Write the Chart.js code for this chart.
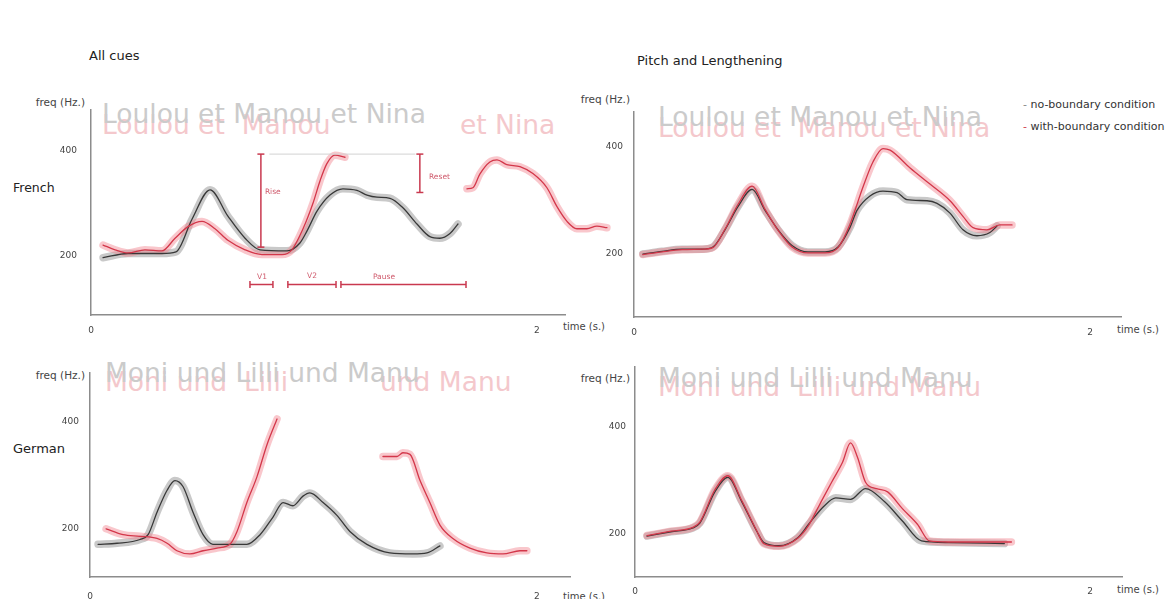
<!DOCTYPE html>
<html>
<head>
<meta charset="utf-8">
<script src="https://cdn.jsdelivr.net/npm/chart.js@4/dist/chart.umd.min.js"></script>
<style>
body { margin: 0; background: #fff; width: 1172px; height: 599px; overflow: hidden; position: relative;
       font-family: "DejaVu Sans", Verdana, sans-serif; color: #333; }
.t { position: absolute; white-space: pre; line-height: 1; }
.w { font-size: 26.5px; }
.g { color: #cbcbcb; }
.p { color: #f4c8cc; }
.ax { font-size: 10.5px; color: #444; }
canvas { position: absolute; }
</style>
</head>
<body>

<!-- sentence overlays (behind the curves) -->
<div class="t w p" style="left:102px;top:112px">Loulou et  Manou</div>
<div class="t w p" style="left:460px;top:112px">et Nina</div>
<div class="t w g" style="left:102px;top:101px">Loulou et Manou et Nina</div>

<div class="t w p" style="left:658px;top:115px">Loulou et  Manou et Nina</div>
<div class="t w g" style="left:658px;top:104px">Loulou et Manou et Nina</div>

<div class="t w p" style="left:105px;top:369px">Moni und  Lilli</div>
<div class="t w p" style="left:380px;top:369px">und Manu</div>
<div class="t w g" style="left:105px;top:360px">Moni und Lilli und Manu</div>

<div class="t w p" style="left:658px;top:374px">Moni und  Lilli und Manu</div>
<div class="t w g" style="left:658px;top:365px">Moni und Lilli und Manu</div>

<!-- titles and labels -->
<div class="t" style="left:89px;top:49px;font-size:13px;color:#222">All cues</div>
<div class="t" style="left:637px;top:54px;font-size:13px;color:#222">Pitch and Lengthening</div>
<div class="t" style="left:13px;top:182px;font-size:12.5px;color:#222">French</div>
<div class="t" style="left:13px;top:442px;font-size:13px;color:#222">German</div>

<div class="t ax" style="right:1087px;top:97px">freq (Hz.)</div>
<div class="t ax" style="right:542px;top:94px">freq (Hz.)</div>
<div class="t ax" style="right:1087px;top:370px">freq (Hz.)</div>
<div class="t ax" style="right:542px;top:373px">freq (Hz.)</div>

<div class="t ax" style="left:563px;top:322px;font-size:10px">time (s.)</div>
<div class="t ax" style="left:1117px;top:325px;font-size:10px">time (s.)</div>
<div class="t ax" style="left:563px;top:592px;font-size:10px">time (s.)</div>
<div class="t ax" style="left:1117px;top:585px;font-size:10px">time (s.)</div>

<div class="t" style="left:1023px;top:99px;font-size:11px"><span style="color:#888">-</span> no-boundary condition</div>
<div class="t" style="left:1023px;top:121px;font-size:11px"><span style="color:#d04050">-</span> with-boundary condition</div>

<canvas id="frAll"></canvas>
<canvas id="frPL"></canvas>
<canvas id="deAll"></canvas>
<canvas id="dePL"></canvas>

<script>
const X_TICKS = [0, 2];
const Y_TICKS = [200, 400];

// French - all cues
const frAllNoT = [0.054, 0.166, 0.318, 0.381, 0.453, 0.534, 0.614, 0.691, 0.758, 0.879, 0.937, 0.969, 1.013, 1.072, 1.130, 1.193, 1.238, 1.283, 1.341, 1.399, 1.462, 1.520, 1.565, 1.610, 1.646];
const frAllNoF = [196, 204, 204, 207, 269, 325, 275, 233, 211, 209, 224, 247, 284, 315, 327, 324, 315, 311, 309, 291, 260, 236, 233, 242, 260];
const frAllWiT = [0.054, 0.108, 0.166, 0.242, 0.318, 0.377, 0.435, 0.498, 0.556, 0.614, 0.691, 0.767, 0.857, 0.901, 0.951, 0.996, 1.027, 1.058, 1.094, 1.139];
const frAllWiF = [220, 211, 205, 211, 209, 233, 255, 265, 251, 229, 211, 202, 202, 211, 251, 300, 342, 375, 391, 387];
const frAllWi2T = [1.686, 1.713, 1.744, 1.789, 1.821, 1.865, 1.924, 1.982, 2.045, 2.090, 2.135, 2.179, 2.224, 2.269, 2.314];
const frAllWi2F = [327, 329, 355, 378, 382, 373, 369, 356, 329, 293, 265, 251, 251, 256, 253];

// French - pitch and lengthening
const frPLNoT = [0.039, 0.123, 0.211, 0.298, 0.346, 0.399, 0.456, 0.518, 0.575, 0.632, 0.693, 0.763, 0.838, 0.895, 0.947, 0.978, 1.035, 1.092, 1.154, 1.197, 1.285, 1.329, 1.386, 1.443, 1.504, 1.561, 1.592];
const frPLNoF = [200, 205, 209, 209, 213, 245, 288, 320, 281, 245, 216, 204, 204, 213, 249, 281, 308, 317, 314, 301, 299, 294, 276, 245, 234, 240, 252];
const frPLWiT = [0.039, 0.123, 0.211, 0.298, 0.346, 0.399, 0.456, 0.518, 0.575, 0.632, 0.693, 0.763, 0.838, 0.895, 0.947, 1.004, 1.048, 1.092, 1.123, 1.211, 1.298, 1.386, 1.443, 1.487, 1.548, 1.605, 1.658];
const frPLWiF = [199, 204, 208, 209, 212, 246, 292, 326, 283, 244, 213, 202, 202, 212, 255, 324, 371, 396, 393, 360, 330, 299, 270, 249, 245, 254, 254];

// German - all cues
const deAllNoT = [0.036, 0.121, 0.224, 0.260, 0.300, 0.345, 0.380, 0.416, 0.461, 0.506, 0.550, 0.626, 0.702, 0.761, 0.819, 0.864, 0.908, 0.953, 0.984, 1.043, 1.105, 1.163, 1.239, 1.342, 1.445, 1.508, 1.566];
const deAllNoF = [171, 173, 180, 189, 231, 272, 290, 279, 231, 189, 171, 171, 171, 189, 222, 249, 243, 261, 267, 249, 225, 195, 171, 155, 153, 155, 168];
const deAllWiT = [0.072, 0.148, 0.224, 0.300, 0.345, 0.389, 0.447, 0.506, 0.568, 0.626, 0.658, 0.702, 0.747, 0.792, 0.837];
const deAllWiF = [200, 189, 186, 182, 173, 159, 153, 159, 164, 171, 195, 249, 297, 357, 405];
const deAllWi2T = [1.311, 1.374, 1.400, 1.432, 1.477, 1.521, 1.566, 1.624, 1.700, 1.776, 1.848, 1.924, 1.955];
const deAllWi2F = [335, 335, 342, 339, 290, 249, 207, 182, 164, 155, 153, 159, 159];

// German - pitch and lengthening
const dePLNoT = [0.053, 0.158, 0.254, 0.285, 0.351, 0.408, 0.469, 0.535, 0.566, 0.632, 0.715, 0.763, 0.829, 0.882, 0.947, 1.013, 1.096, 1.175, 1.259, 1.377, 1.623];
const dePLNoF = [196, 204, 211, 220, 278, 305, 260, 205, 184, 178, 193, 218, 251, 267, 264, 284, 260, 224, 187, 184, 182];
const dePLWiT = [0.053, 0.158, 0.254, 0.285, 0.351, 0.408, 0.469, 0.535, 0.566, 0.632, 0.715, 0.763, 0.807, 0.864, 0.912, 0.947, 0.978, 1.013, 1.061, 1.110, 1.175, 1.241, 1.294, 1.377, 1.623, 1.654];
const dePLWiF = [197, 205, 212, 222, 282, 308, 262, 206, 182, 177, 192, 216, 251, 296, 333, 369, 342, 296, 284, 278, 247, 218, 187, 185, 185, 185];

// annotations in the French all-cues panel
const vBarT = [0.762, 1.475];
const vBarLo = [216, 320];
const vBarHi = [393, 393];
const refLineT = [0.80, 1.455];
const refLineF = 393;
const hBarF = 145;
const hBarFrom = [0.713, 0.883, 1.121];
const hBarTo = [0.816, 1.099, 1.682];
const noteText = ['Rise', 'Reset', 'V1', 'V2', 'Pause'];
const noteT = [0.780, 1.516, 0.767, 0.991, 1.314];
const noteF = [320, 349, 160, 162, 160];
const noteAlign = ['left', 'left', 'center', 'center', 'center'];

const RED = '#c9394f';

const pts = (t, f) => t.map((v, i) => ({ x: v, y: f[i] }));

function curve(t, f, kind) {
  const band = kind === 'no' ? 'rgba(135,135,135,0.45)' : 'rgba(242,130,142,0.45)';
  const line = kind === 'no' ? '#383838' : '#d3374a';
  const base = { data: pts(t, f), showLine: true, pointRadius: 0, clip: false,
                 cubicInterpolationMode: 'monotone', borderCapStyle: 'round', borderJoinStyle: 'round' };
  return [
    Object.assign({}, base, { borderColor: band, borderWidth: 7.5, order: kind === 'no' ? 4 : 3 }),
    Object.assign({}, base, { borderColor: line, borderWidth: 1.3, order: kind === 'no' ? 2 : 1 })
  ];
}

const brackets = {
  id: 'brackets',
  afterDatasetsDraw(chart) {
    const { ctx, scales: { x, y } } = chart;
    const seg = (a, b, c, d) => { ctx.beginPath(); ctx.moveTo(a, b); ctx.lineTo(c, d); ctx.stroke(); };
    ctx.save();
    ctx.strokeStyle = '#d2d2d2';
    ctx.lineWidth = 1;
    seg(x.getPixelForValue(refLineT[0]), y.getPixelForValue(refLineF), x.getPixelForValue(refLineT[1]), y.getPixelForValue(refLineF));
    ctx.strokeStyle = RED;
    ctx.lineWidth = 1.5;
    vBarT.forEach((t, i) => {
      const px = x.getPixelForValue(t), y0 = y.getPixelForValue(vBarLo[i]), y1 = y.getPixelForValue(vBarHi[i]);
      seg(px, y0, px, y1);
      seg(px - 3.5, y0, px + 3.5, y0);
      seg(px - 3.5, y1, px + 3.5, y1);
    });
    const py = y.getPixelForValue(hBarF);
    hBarFrom.forEach((t, i) => {
      const x0 = x.getPixelForValue(t), x1 = x.getPixelForValue(hBarTo[i]);
      seg(x0, py, x1, py);
      seg(x0, py - 3.5, x0, py + 3.5);
      seg(x1, py - 3.5, x1, py + 3.5);
    });
    ctx.fillStyle = '#cf5a6c';
    ctx.font = '7.5px "DejaVu Sans"';
    ctx.textBaseline = 'middle';
    noteText.forEach((s, i) => {
      ctx.textAlign = noteAlign[i];
      ctx.fillText(s, x.getPixelForValue(noteT[i]), y.getPixelForValue(noteF[i]));
    });
    ctx.restore();
  }
};

const panels = [
  { id: 'frAll', left: 51, top: 90, w: 570, h: 250, pr: 56, x: [0, 2.126], y: [87, 478], yp: 14, xp: 10,
    sets: [curve(frAllWiT, frAllWiF, 'with'), curve(frAllWi2T, frAllWi2F, 'with'), curve(frAllNoT, frAllNoF, 'no')], notes: true },
  { id: 'frPL', left: 594, top: 95, w: 537, h: 247, pr: 10, x: [0, 2.136], y: [83, 465], yp: 11, xp: 10,
    sets: [curve(frPLWiT, frPLWiF, 'with'), curve(frPLNoT, frPLNoF, 'no')] },
  { id: 'deAll', left: 50, top: 356, w: 530, h: 246, pr: 10, x: [0, 2.148], y: [110, 492], yp: 11, xp: 14,
    sets: [curve(deAllWiT, deAllWiF, 'with'), curve(deAllWi2T, deAllWi2F, 'with'), curve(deAllNoT, deAllNoF, 'no')] },
  { id: 'dePL', left: 595, top: 352, w: 537, h: 250, pr: 10, x: [0, 2.14], y: [120, 511], yp: 9, xp: 9,
    sets: [curve(dePLWiT, dePLWiF, 'with'), curve(dePLNoT, dePLNoF, 'no')] }
];

panels.forEach(p => {
  const cv = document.getElementById(p.id);
  cv.width = p.w;
  cv.height = p.h;
  cv.style.left = p.left + 'px';
  cv.style.top = p.top + 'px';
  const tickFont = { size: 9, family: 'DejaVu Sans' };
  new Chart(cv, {
    type: 'scatter',
    data: { datasets: p.sets.flat() },
    options: {
      responsive: false,
      animation: false,
      events: [],
      layout: { padding: { left: 0, top: 10, right: p.pr, bottom: 0 } },
      plugins: { legend: { display: false }, tooltip: { enabled: false } },
      scales: {
        x: {
          type: 'linear',
          grid: { display: false, drawTicks: false },
          border: { color: '#8c8c8c', width: 1.5 },
          ticks: { font: tickFont, color: '#444', padding: p.xp, maxRotation: 0 },
          afterBuildTicks: s => { s.min = p.x[0]; s.max = p.x[1]; s.ticks = X_TICKS.map(v => ({ value: v })); },
          afterFit: s => { s.height = 25; }
        },
        y: {
          type: 'linear',
          grid: { display: false, drawTicks: false },
          border: { color: '#8c8c8c', width: 1.5 },
          ticks: { font: tickFont, color: '#444', padding: p.yp },
          afterBuildTicks: s => { s.min = p.y[0]; s.max = p.y[1]; s.ticks = Y_TICKS.map(v => ({ value: v })); },
          afterFit: s => { s.width = 40; }
        }
      }
    },
    plugins: p.notes ? [brackets] : []
  });
});
</script>
</body>
</html>
